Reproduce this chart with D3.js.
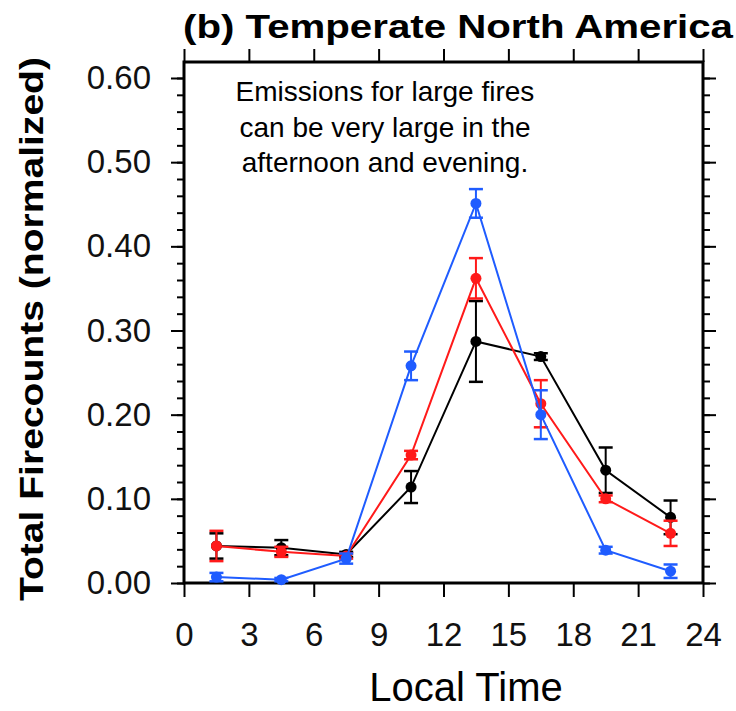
<!DOCTYPE html>
<html><head><meta charset="utf-8">
<script src="https://cdn.jsdelivr.net/npm/d3@7"></script>
<style>body{margin:0;background:#fff}svg{display:block}</style>
</head><body>
<svg id="c" width="736" height="711"></svg>
<script>
const hours = [1.5, 4.5, 7.5, 10.5, 13.5, 16.5, 19.5, 22.5];
const blueVals = [0.007, 0.004, 0.029, 0.258, 0.451, 0.200, 0.039, 0.014];
const blueErr  = [0.005, 0.002, 0.006, 0.017, 0.017, 0.029, 0.004, 0.008];
const redVals  = [0.044, 0.037, 0.032, 0.152, 0.362, 0.213, 0.100, 0.059];
const redErr   = [0.018, 0.006, 0.003, 0.005, 0.024, 0.028, 0.004, 0.015];
const blackVals= [0.044, 0.042, 0.034, 0.114, 0.287, 0.269, 0.134, 0.078];
const blackErr = [0.015, 0.009, 0.003, 0.019, 0.048, 0.004, 0.027, 0.020];
const xTicks = [0, 3, 6, 9, 12, 15, 18, 21, 24];
const yTicks = [0, 0.1, 0.2, 0.3, 0.4, 0.5, 0.6];
const yMinor = d3.range(0, 0.62, 0.02);
const seriesColors = ["#000000", "#ff1a1a", "#1f5cff"];

const svg = d3.select("#c");
const L = 184, R = 703, T = 62, B = 583;
const x = d3.scaleLinear().domain([0, 24]).range([L, R]);
const y = d3.scaleLinear().domain([0, 0.6]).range([B, 78]);

const font = "'Liberation Sans', Arial, Helvetica, sans-serif";

// axes ticks
const axL = d3.axisLeft(y).tickValues(yTicks).tickFormat(d3.format(".2f")).tickSize(13).tickPadding(20);
const gL = svg.append("g").attr("transform", `translate(${L},0)`).call(axL);
gL.selectAll("text").attr("font-family", font).attr("font-size", 33).attr("fill", "#111");
const axLm = d3.axisLeft(y).tickValues(yMinor).tickFormat("").tickSize(7);
svg.append("g").attr("transform", `translate(${L},0)`).call(axLm);
const axR = d3.axisRight(y).tickValues(yTicks).tickFormat("").tickSize(13);
svg.append("g").attr("transform", `translate(${R},0)`).call(axR);
const axRm = d3.axisRight(y).tickValues(yMinor).tickFormat("").tickSize(7);
svg.append("g").attr("transform", `translate(${R},0)`).call(axRm);
const axB = d3.axisBottom(x).tickValues(xTicks).tickSize(14).tickPadding(26);
const gB = svg.append("g").attr("transform", `translate(0,${B})`).call(axB);
gB.selectAll("text").attr("font-family", font).attr("font-size", 33).attr("fill", "#111");
const axT = d3.axisTop(x).tickValues(xTicks).tickFormat("").tickSize(13);
svg.append("g").attr("transform", `translate(0,${T})`).call(axT);
svg.selectAll(".domain").remove();
svg.selectAll(".tick line").attr("stroke", "#000").attr("stroke-width", 2);

// frame
svg.append("rect").attr("x", L).attr("y", T).attr("width", R - L).attr("height", B - T)
  .attr("fill", "none").attr("stroke", "#000").attr("stroke-width", 3);

// series
const series = [
  {vals: blackVals, err: blackErr, color: seriesColors[0]},
  {vals: redVals, err: redErr, color: seriesColors[1]},
  {vals: blueVals, err: blueErr, color: seriesColors[2]}
];
const line = d3.line().x((d, i) => x(hours[i])).y(d => y(d));
series.forEach(s => {
  const g = svg.append("g");
  g.append("path").attr("d", line(s.vals)).attr("fill", "none")
    .attr("stroke", s.color).attr("stroke-width", 2);
  s.vals.forEach((v, i) => {
    const cx = x(hours[i]);
    const y1 = y(v + s.err[i]), y2 = y(v - s.err[i]);
    g.append("line").attr("x1", cx).attr("x2", cx).attr("y1", y1).attr("y2", y2)
      .attr("stroke", s.color).attr("stroke-width", 2);
    [y1, y2].forEach(yy => g.append("line").attr("x1", cx - 7).attr("x2", cx + 7)
      .attr("y1", yy).attr("y2", yy).attr("stroke", s.color).attr("stroke-width", 2.5));
    g.append("circle").attr("cx", cx).attr("cy", y(v)).attr("r", 5.5).attr("fill", s.color);
  });
});

// annotation
const ann = ["Emissions for large fires", "can be very large in the", "afternoon and evening."];
svg.append("g").selectAll("text").data(ann).join("text")
  .attr("x", 385).attr("y", (d, i) => 101 + i * 35.5)
  .attr("text-anchor", "middle").attr("font-family", font).attr("font-size", 28)
  .attr("fill", "#000").text(d => d);

// title
svg.append("text").attr("x", 183).attr("y", 38).attr("font-family", font)
  .attr("font-weight", "bold").attr("font-size", 34).attr("textLength", 550)
  .attr("lengthAdjust", "spacingAndGlyphs").attr("fill", "#000")
  .text("(b) Temperate North America");

// y label
svg.append("text").attr("transform", "translate(43,329) rotate(-90)")
  .attr("text-anchor", "middle").attr("font-family", font).attr("font-weight", "bold")
  .attr("font-size", 33).attr("textLength", 544).attr("lengthAdjust", "spacingAndGlyphs")
  .attr("fill", "#000").text("Total Firecounts (normalized)");

// x label
svg.append("text").attr("x", 466).attr("y", 701).attr("text-anchor", "middle")
  .attr("font-family", font).attr("font-size", 40).attr("fill", "#000").text("Local Time");
</script>
</body></html>
